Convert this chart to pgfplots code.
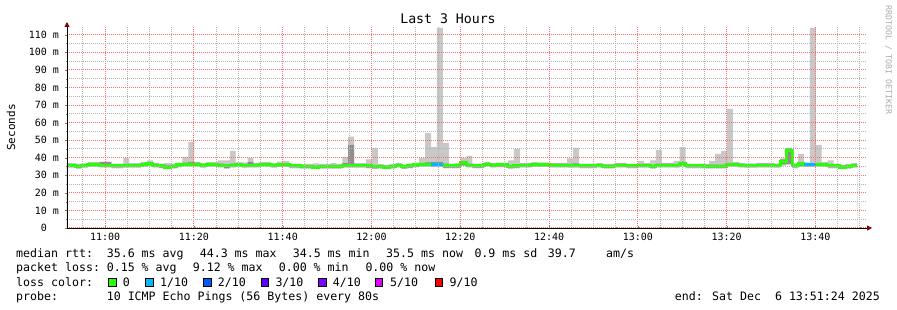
\documentclass[border=0pt]{standalone}
\usepackage{pgfplots}
\pgfplotsset{compat=1.18}
\usepackage{pgfplotstable}
\usetikzlibrary{arrows.meta}
\usepackage{fontspec}
\setmainfont{DejaVu Sans Mono}
\definecolor{smokeA}{HTML}{C8C8C8}
\definecolor{smokeB}{HTML}{8E8E8E}
\definecolor{lgreen}{HTML}{26FF00}
\definecolor{lblue}{HTML}{00B8FF}
\definecolor{ltwo}{HTML}{0059FF}
\definecolor{lthree}{HTML}{5E00FF}
\definecolor{lfour}{HTML}{7E00FF}
\definecolor{lfive}{HTML}{DD00FF}
\definecolor{lnine}{HTML}{FF0000}
\definecolor{gridmaj}{HTML}{FF6A6A}
\definecolor{gridmin}{HTML}{B4B4B4}
\definecolor{arrowred}{HTML}{800000}
\pgfplotsset{
  every axis grid/.style={line width=1pt, dash pattern=on 1pt off 1pt},
  every major grid/.style={draw=gridmaj, color=gridmaj},
  every minor grid/.style={draw=gridmin, color=gridmin},
}

\pgfplotstableread{
k med lo hi lotwo hitwo
-1 35.6 34.2 36.9 34.7 36.5
0 35.6 34.2 36.9 34.7 36.5
1 35.2 33.8 36.6 34.0 36.1
2 35.5 34.1 36.8 34.6 36.4
3 36.2 34.8 37.5 35.3 37.1
4 36.2 34.8 37.5 35.3 37.1
5 35.8 34.4 37.8 34.9 37.5
6 35.8 34.4 37.8 34.9 37.5
7 35.4 34.0 36.7 34.5 36.3
8 35.4 34.0 36.7 34.5 36.3
9 35.6 34.2 39.9 34.7 36.5
10 35.6 34.2 36.9 34.7 36.5
11 35.6 34.2 36.9 34.7 36.5
12 36.2 34.8 37.5 35.3 37.1
13 36.5 35.1 38.5 35.6 37.4
14 35.8 34.4 37.1 34.9 36.7
15 35.3 33.9 36.6 34.4 36.2
16 34.7 33.6 37.0 34.0 35.6
17 35.2 33.8 36.5 34.3 36.1
18 35.9 34.5 37.2 35.0 36.8
19 36.3 34.9 40.3 35.4 37.2
20 36.3 34.9 49.0 35.4 37.5
21 36.3 34.9 37.6 35.4 37.2
22 35.6 34.2 36.9 34.7 36.5
23 36.2 34.8 37.5 35.3 37.1
24 36.2 34.8 37.5 35.3 37.1
25 35.8 34.4 38.5 34.9 36.7
26 35.4 33.8 38.5 34.0 36.3
27 35.8 34.4 43.9 34.9 36.7
28 36.2 34.8 37.4 35.3 37.1
29 35.6 34.2 37.4 34.7 36.5
30 35.8 34.4 39.9 34.9 37.6
31 35.8 34.4 37.1 34.9 36.7
32 36.2 34.8 37.5 35.3 37.1
33 36.2 34.8 37.5 35.3 37.1
34 35.6 34.2 36.9 34.7 36.5
35 36.0 34.6 37.8 35.1 36.9
36 36.0 34.6 38.2 35.1 36.9
37 35.4 34.0 36.7 34.5 36.3
38 35.4 34.0 36.7 34.5 36.3
39 35.0 33.6 36.3 34.1 35.9
40 35.0 33.6 36.3 34.1 35.9
41 34.6 33.5 36.8 33.9 35.5
42 35.0 33.6 36.3 34.1 35.9
43 35.0 33.6 36.3 34.1 35.9
44 35.0 33.6 36.9 34.1 35.9
45 35.0 33.6 36.3 34.1 35.9
46 35.6 34.2 40.3 34.7 36.9
47 35.6 34.2 52.0 34.7 47.3
48 35.6 34.2 36.9 34.7 36.5
49 35.6 34.2 36.9 34.7 36.5
50 35.3 33.9 39.0 34.4 36.2
51 34.8 33.5 45.6 33.9 35.7
52 35.0 33.6 36.3 34.1 35.9
53 34.6 33.5 35.9 33.9 35.5
54 35.0 33.6 36.3 34.1 35.9
55 35.8 34.4 37.1 34.9 36.7
56 34.8 33.5 36.1 33.9 35.7
57 35.3 33.9 36.6 34.4 36.2
58 35.9 34.5 37.2 35.0 36.8
59 36.2 34.8 39.9 35.3 37.1
60 36.2 34.8 54.0 35.3 37.3
61 36.0 34.6 46.1 35.1 37.5
62 36.0 34.6 114.0 35.1 37.5
63 35.7 33.9 48.4 34.2 36.6
64 35.3 33.9 36.6 34.4 36.2
65 35.3 33.9 37.0 34.4 36.2
66 37.3 35.4 39.9 35.6 38.2
67 35.8 34.4 41.0 34.9 36.7
68 35.3 33.9 36.6 34.4 36.2
69 35.3 33.9 36.6 34.4 36.2
70 36.3 34.9 37.6 35.4 37.2
71 35.7 34.3 37.0 34.8 36.6
72 35.9 34.5 37.2 35.0 36.8
73 35.9 34.5 37.2 35.0 36.8
74 35.0 33.6 38.5 34.1 35.9
75 35.3 33.9 45.0 34.4 36.2
76 35.8 34.4 37.1 34.9 36.7
77 35.8 34.4 37.1 34.9 36.7
78 36.2 34.8 37.5 35.3 37.1
79 36.0 34.6 37.3 35.1 36.9
80 36.0 34.6 37.3 35.1 36.9
81 35.8 34.4 37.1 34.9 36.7
82 35.8 34.4 37.1 34.9 36.7
83 35.8 34.4 37.1 34.9 36.7
84 35.6 34.2 39.7 34.7 36.5
85 35.6 34.2 45.6 34.7 36.8
86 35.4 34.0 36.7 34.5 36.3
87 35.4 34.0 36.7 34.5 36.3
88 35.4 34.0 36.7 34.5 36.3
89 35.7 34.3 37.0 34.8 36.6
90 35.2 33.8 36.5 34.3 36.1
91 35.2 33.8 36.5 34.3 36.1
92 35.8 34.4 37.1 34.9 36.7
93 35.8 34.4 37.1 34.9 36.7
94 35.4 34.0 36.7 34.5 36.3
95 35.4 34.0 36.7 34.5 36.3
96 35.6 34.2 38.2 34.7 36.5
97 35.6 34.2 36.9 34.7 36.5
98 35.0 33.6 38.5 34.1 35.9
99 35.8 34.4 44.5 34.9 36.7
100 35.8 34.4 37.1 34.9 36.7
101 35.8 34.4 37.1 34.9 36.7
102 35.6 34.2 38.2 34.7 36.5
103 36.5 35.1 46.0 35.6 37.7
104 35.4 34.0 36.7 34.5 36.3
105 35.4 34.0 36.7 34.5 36.3
106 35.4 34.0 36.7 34.5 36.3
107 35.2 33.8 36.5 34.3 36.1
108 35.2 33.8 38.2 34.3 36.1
109 35.2 33.8 42.2 34.3 36.1
110 35.2 33.8 43.9 34.3 36.1
111 36.2 34.8 67.8 35.3 37.1
112 36.2 34.8 37.5 35.3 37.1
113 35.8 34.4 37.1 34.9 36.7
114 35.5 34.1 36.8 34.6 36.4
115 35.5 34.1 36.8 34.6 36.4
116 35.8 34.4 37.1 34.9 36.7
117 35.8 34.4 37.1 34.9 36.7
118 35.8 34.4 37.1 34.9 36.7
119 35.5 34.1 36.8 34.6 36.4
120 37.9 35.5 39.7 36.2 39.0
121 44.3 35.8 45.8 36.5 45.3
122 35.4 34.0 37.0 34.5 36.3
123 36.5 34.6 42.2 35.2 37.4
124 36.0 34.6 37.3 35.1 36.9
125 36.0 34.6 114.0 35.1 36.9
126 36.2 34.8 47.3 35.3 37.1
127 36.2 34.8 37.5 35.3 37.1
128 35.4 34.0 38.5 34.5 36.3
129 35.4 34.0 36.7 34.5 36.3
130 34.7 33.6 36.0 34.0 35.6
131 35.1 33.7 36.4 34.2 36.0
132 35.6 34.2 36.9 34.7 36.5
133 35.6 34.2 36.9 34.7 36.5
}\smoke

\begin{document}
\begin{tikzpicture}
\useasboundingbox (-67pt,-82pt) rectangle (830pt,228pt);
\begin{axis}[
  at={(0pt,0pt)}, anchor=south west,
  scale only axis, width=799pt, height=202pt,
  xmin=51.4, xmax=231.4, ymin=0, ymax=115,
  axis on top,
  axis lines=left,
  x axis line style={line width=0.8pt, shorten >=-6pt, -{Triangle[length=5pt,width=5pt,color=arrowred]}},
  y axis line style={line width=0.8pt, shorten >=-4pt, -{Triangle[length=5pt,width=5pt,color=arrowred]}},
  xtick={60,80,100,120,140,160,180,200,220},
  xticklabels={11:00,11:20,11:40,12:00,12:20,12:40,13:00,13:20,13:40},
  minor xtick={55,65,70,75,85,90,95,105,110,115,125,130,135,145,150,155,165,170,175,185,190,195,205,210,215,225,230},
  ytick={0,10,20,30,40,50,60,70,80,90,100,110},
  yticklabels={0\phantom{~m},10 m,20 m,30 m,40 m,50 m,60 m,70 m,80 m,90 m,100 m,110 m},
  minor ytick={5,15,25,35,45,55,65,75,85,95,105},
  grid=both,
  major grid style={draw=gridmaj},
  minor grid style={draw=gridmin},
  tick align=center,
  major tick length=3pt, minor tick length=2pt,
  tick label style={font=\fontsize{10}{12}\selectfont},
  yticklabel style={xshift=-3pt},
]
% smoke: layered areas down to zero (light to hi, dark to hi2, light to lo2, white to lo)
\addplot[fill=smokeA, draw=none, const plot] table[x expr=52.08+1.33333*\thisrow{k}, y=hi] {\smoke} \closedcycle;
\addplot[fill=smokeB, draw=none, const plot] table[x expr=52.08+1.33333*\thisrow{k}, y=hitwo] {\smoke} \closedcycle;
\addplot[fill=smokeA, draw=none, const plot] table[x expr=52.08+1.33333*\thisrow{k}, y=lotwo] {\smoke} \closedcycle;
\addplot[fill=white, draw=none, const plot] table[x expr=52.08+1.33333*\thisrow{k}, y=lo] {\smoke} \closedcycle;
\addplot[lgreen, line width=3pt, const plot] table[x expr=52.08+1.33333*\thisrow{k}, y=med] {\smoke};
\addplot[lblue, line width=3pt, const plot] coordinates {(133.41,36.0) (136.08,36.0)};
\addplot[lblue, line width=3pt, const plot] coordinates {(217.41,36.0) (220.08,36.0)};
\end{axis}
% title, labels, watermark
\node[anchor=base, font=\fontsize{13.2}{15}\selectfont] at (381pt,204pt) {Last 3 Hours};
\node[rotate=90, font=\fontsize{11}{13}\selectfont] at (-56pt,100.5pt) {Seconds};
\node[rotate=-90, font=\fontsize{8.3}{10}\selectfont, text=gray!65] at (821.5pt,168pt) {RRDTOOL / TOBI OETIKER};
% legend lines
\begin{scope}[every node/.style={anchor=base west, inner sep=0pt, font=\fontsize{11.6}{14}\selectfont}]
\node at (-51pt,-30pt) {median rtt:};
\node at (39.6pt,-30pt) {35.6 ms avg};
\node at (132.6pt,-30pt) {44.3 ms max};
\node at (225.6pt,-30pt) {34.5 ms min};
\node at (319pt,-30pt) {35.5 ms now};
\node at (407.3pt,-30pt) {0.9 ms sd};
\node at (480.6pt,-30pt) {39.7};
\node at (539pt,-30pt) {am/s};
\node at (-51pt,-44pt) {packet loss:};
\node at (39.6pt,-44pt) {0.15 \% avg};
\node at (125.6pt,-44pt) {9.12 \% max};
\node at (211.6pt,-44pt) {0.00 \% min};
\node at (298.3pt,-44pt) {0.00 \% now};
\node at (-51pt,-58.5pt) {loss color:};
\node at (55.6pt,-58.5pt) {0};
\node at (93pt,-58.5pt) {1/10};
\node at (150.6pt,-58.5pt) {2/10};
\node at (208.3pt,-58.5pt) {3/10};
\node at (265.6pt,-58.5pt) {4/10};
\node at (323pt,-58.5pt) {5/10};
\node at (382.5pt,-58.5pt) {9/10};
\node at (-51pt,-72.5pt) {probe:};
\node at (39.6pt,-72.5pt) {10 ICMP Echo Pings (56 Bytes) every 80s};
\node[anchor=base east] at (813pt,-72.5pt) {end: Sat Dec~~6 13:51:24 2025};
\end{scope}
\foreach \bx/\bc in {41.3/lgreen,78.7/lblue,136.3/ltwo,194/lthree,251.3/lfour,308/lfive,368/lnine}{
  \draw[black, line width=0.7pt, fill=\bc] (\bx pt,-58.3pt) rectangle ++(7.6pt,7.6pt);
}
\end{tikzpicture}
\end{document}
